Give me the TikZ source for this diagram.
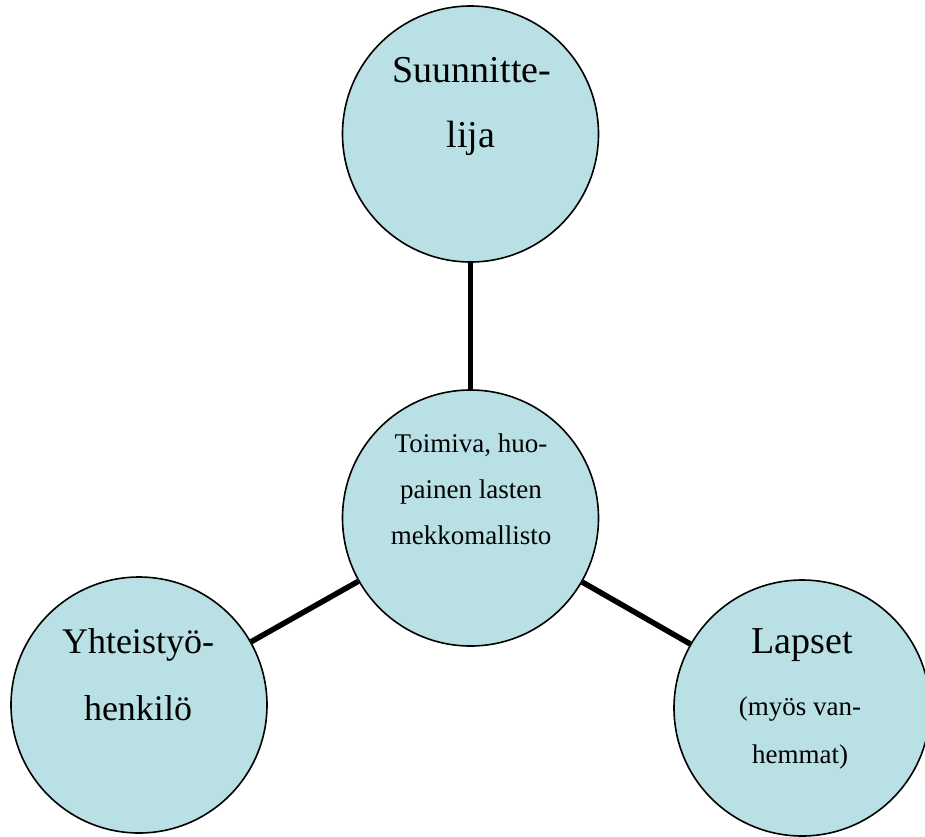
\documentclass[tikz,border=0pt]{standalone}
\usepackage{fontspec}
\setmainfont{Liberation Serif}
\definecolor{circfill}{RGB}{185,224,228}
\begin{document}
\begin{tikzpicture}[x=1pt,y=-1pt,
  bubble/.style={circle,draw=black,line width=1.6pt,fill=circfill,minimum size=256pt,inner sep=0pt},
  link/.style={line width=5.5pt,black},
  big/.style={font=\fontsize{38}{44}\selectfont,anchor=base,inner sep=0pt},
  bigl/.style={font=\fontsize{36}{42}\selectfont,anchor=base,inner sep=0pt},
  small/.style={font=\fontsize{27}{32}\selectfont,anchor=base,inner sep=0pt}]
\useasboundingbox (0,0) rectangle (925,836);
\clip (0,0) rectangle (925,836);
\node[bubble] (top) at (470.5,134) {};
\node[bubble] (mid) at (470.5,518) {};
\node[bubble] (left) at (139,705) {};
\node[bubble] (right) at (802,708) {};
\draw[link] (top) -- (mid);
\draw[link] (left) -- (mid);
\draw[link] (mid) -- (right);
\node[big] (t1) at (472,82) {Suunnitte-};
\node[big] (t2) at (471,147) {lija};
\node[small] (m1) at (471,452) {Toimiva, huo-};
\node[small] (m2) at (471,498) {painen lasten};
\node[small] (m3) at (471,544) {mekkomallisto};
\node[bigl] (l1) at (138,653) {Yhteistyö-};
\node[bigl] (l2) at (138,720) {henkilö};
\node[big] (r1) at (802,653) {Lapset};
\node[small] (r2) at (800,715) {(myös van-};
\node[small] (r3) at (800,763) {hemmat)};
\end{tikzpicture}
\end{document}
